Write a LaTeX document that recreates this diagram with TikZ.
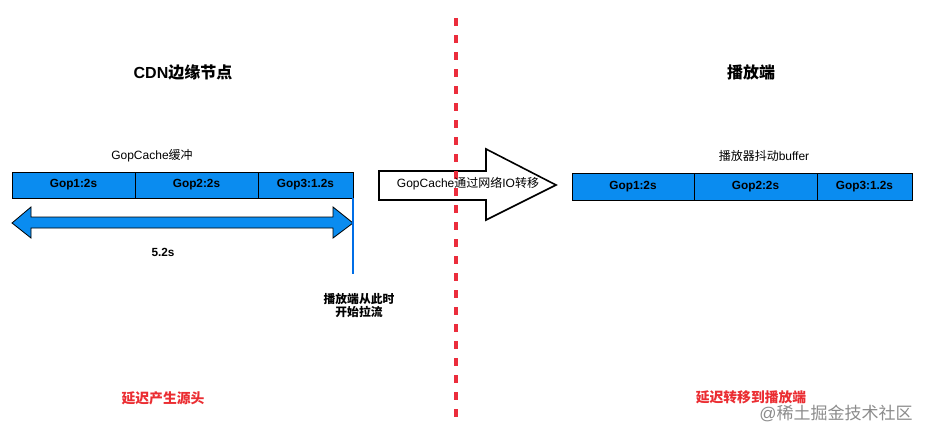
\documentclass[tikz,border=0pt]{standalone}
\usepackage{fontspec}
\setmainfont{Liberation Sans}
\newfontfamily\cjk{Noto Sans CJK SC}
\definecolor{gopblue}{RGB}{10,140,240}
\definecolor{lineblue}{RGB}{0,110,230}
\definecolor{dashred}{RGB}{235,45,60}
\definecolor{txtred}{RGB}{235,45,50}
\begin{document}
\begin{tikzpicture}[x=1pt,y=-1pt,
  cell/.style={draw=black, line width=0.8pt, fill=gopblue, minimum height=26pt,
    inner sep=0pt, outer sep=0pt, anchor=west, font=\bfseries\fontsize{11.8}{13}\selectfont},
  title/.style={font=\bfseries\fontsize{16}{18}\selectfont, inner sep=0pt},
  lbl/.style={font=\fontsize{12}{14}\selectfont, inner sep=0pt},
  blbl/.style={font=\bfseries\fontsize{11.8}{14}\selectfont, inner sep=0pt, align=center},
  redlbl/.style={font=\bfseries\fontsize{13.8}{16}\selectfont, text=txtred, inner sep=0pt},
  reddash/.style={draw=dashred, line width=3.2pt, dash pattern=on 8pt off 9pt},
  bigarrow/.style={draw=black, line width=1.6pt, fill=white, line join=miter},
  dblarrow/.style={draw=black, line width=0.8pt, fill=gopblue, line join=miter}]
\useasboundingbox (0,0) rectangle (932,439);
\fill[white] (0,0) rectangle (932,439);

% titles
\node[title] (t1) at (183,72) {CDN{\cjk 边缘节点}};
\node[title] (t2) at (751,72) {{\cjk 播放端}};

% left buffer
\node[lbl] (lcap) at (152,156) {GopCache{\cjk 缓冲}};
\node[cell, minimum width=123pt] (l1) at (12,185) {Gop1:2s};
\node[cell, minimum width=123pt] (l2) at (l1.east) {Gop2:2s};
\node[cell, minimum width=95pt] (l3) at (l2.east) {Gop3:1.2s};

% double arrow 5.2s
\coordinate (da) at (12,223);
\draw[dblarrow] (da) -- ++(19,-16) -- ++(0,10) -- ++(302,0) -- ++(0,-10) -- ++(20,16)
  -- ++(-20,15) -- ++(0,-10) -- ++(-302,0) -- ++(0,10) -- cycle;
\node[blbl] (len) at (163,252) {5.2s};

% start marker
\coordinate (mk) at (353,274);
\draw[lineblue, line width=1.3pt] (l3.south east) -- (mk);
\node[blbl] (start) at (359,306) {{\cjk 播放端从此时}\\[-1pt]{\cjk 开始拉流}};

% transfer arrow
\coordinate (ba) at (379,171);
\draw[bigarrow] (ba) -- (486,171) -- (486,149) -- (556,185) -- (486,220) -- (486,200) -- (379,200) -- cycle;

% divider
\coordinate (dtop) at (456,18);
\coordinate (dbot) at (456,424);
\draw[reddash] (dtop) -- (dbot);

\node[lbl] (xfer) at (468,184) {GopCache{\cjk 通过网络}IO{\cjk 转移}};

% right buffer
\node[lbl] (rcap) at (764,156) {{\cjk 播放器抖动}buffer};
\node[cell, minimum width=122pt, minimum height=27pt] (r1) at (572,186.5) {Gop1:2s};
\node[cell, minimum width=123pt, minimum height=27pt] (r2) at (r1.east) {Gop2:2s};
\node[cell, minimum width=95pt, minimum height=27pt] (r3) at (r2.east) {Gop3:1.2s};

% bottom labels
\node[redlbl] (lat1) at (163,398) {{\cjk 延迟产生源头}};
\node[redlbl] (lat2) at (751,397) {{\cjk 延迟转移到播放端}};
\node[font=\fontsize{17}{19}\selectfont, text=black!45, inner sep=0pt] (wm) at (836,413) {@{\cjk 稀土掘金技术社区}};
\end{tikzpicture}
\end{document}
